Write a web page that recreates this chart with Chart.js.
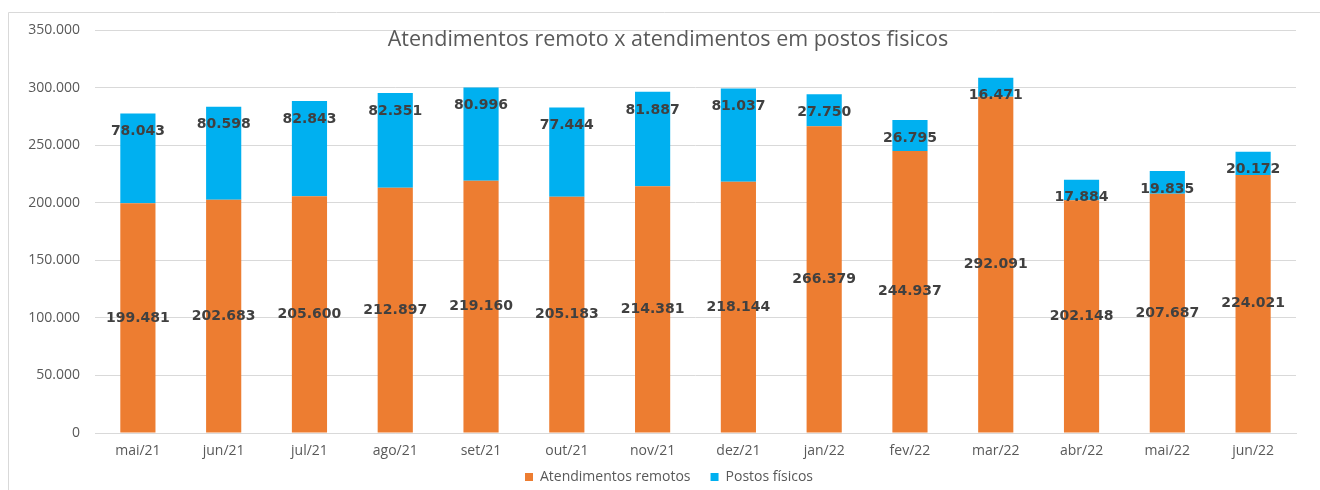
<!DOCTYPE html>
<html>
<head>
<meta charset="utf-8">
<script src="https://cdn.jsdelivr.net/npm/chart.js@4"></script>
<style>
    html, body { margin: 0; padding: 0; background: #ffffff; }
    #wrap { width: 1320px; height: 490px; position: relative; }
</style>
</head>
<body>
<div id="wrap"><canvas id="mainChart"></canvas></div>
<script>
const months = ['mai/21', 'jun/21', 'jul/21', 'ago/21', 'set/21', 'out/21', 'nov/21',
    'dez/21', 'jan/22', 'fev/22', 'mar/22', 'abr/22', 'mai/22', 'jun/22'];
const remoteValues = [199481, 202683, 205600, 212897, 219160, 205183, 214381,
    218144, 266379, 244937, 292091, 202148, 207687, 224021];
const physicalValues = [78043, 80598, 82843, 82351, 80996, 77444, 81887,
    81037, 27750, 26795, 16471, 17884, 19835, 20172];
const yTicks = [0, 50000, 100000, 150000, 200000, 250000, 300000, 350000];

const chartTitle = 'Atendimentos remoto x atendimentos em postos fisicos';
const textFont = "'Open Sans', 'Liberation Sans', sans-serif";

function formatNumber(v) {
    if (v === 0) return '0';
    return v.toString().replace(/\B(?=(\d{3})+(?!\d))/g, '.');
}

// frame, title and data labels drawn on top of the chart
const decorPlugin = {
    id: 'decor',
    beforeLayout(chart) {
        // keep the wide gap between legend items but a short legend box
        const lg = chart.legend;
        if (lg && !lg._shortFit) {
            const origFit = lg.fit;
            lg.fit = function() {
                origFit.call(this);
                this.height = 27;
            };
            lg._shortFit = true;
        }
    },
    afterLayout(chart) {
        // Excel centres the legend on the whole frame, nudge it a little
        const lg = chart.legend;
        lg.left += 21;
        lg.right += 21;
        lg.top -= 13;
        lg.bottom = chart.height;
        lg.height = lg.bottom - lg.top;
    },
    beforeDraw(chart) {
        const ctx = chart.ctx;
        ctx.save();
        ctx.strokeStyle = '#d9d9d9';
        ctx.lineWidth = 1;
        ctx.beginPath();
        ctx.moveTo(8.5, 600);
        ctx.lineTo(8.5, 12.5);
        ctx.lineTo(1330, 12.5);
        ctx.stroke();
        ctx.restore();
    },
    afterDatasetsDraw(chart) {
        const ctx = chart.ctx;
        ctx.save();
        ctx.fillStyle = '#595959';
        ctx.font = "21.5px " + textFont;
        ctx.textAlign = 'center';
        ctx.textBaseline = 'middle';
        ctx.fillText(chartTitle, 668, 40);

        ctx.fillStyle = '#404040';
        ctx.font = "bold 14px 'DejaVu Sans', sans-serif";
        chart.data.datasets.forEach((ds, i) => {
            const meta = chart.getDatasetMeta(i);
            meta.data.forEach((bar, j) => {
                let y;
                if (i === 0) {
                    y = (bar.y + bar.base) / 2;
                } else {
                    y = bar.y + 18;
                }
                ctx.fillText(formatNumber(ds.data[j]), bar.x, y);
            });
        });
        ctx.restore();
    }
};

const ctx = document.getElementById('mainChart').getContext('2d');

new Chart(ctx, {
    type: 'bar',
    data: {
        labels: months,
        datasets: [{
            label: 'Atendimentos remotos',
            data: remoteValues,
            backgroundColor: '#ED7D31',
            borderWidth: 0,
            categoryPercentage: 1,
            barPercentage: 0.41
        }, {
            label: 'Postos físicos',
            data: physicalValues,
            backgroundColor: '#00B0F0',
            borderWidth: 0,
            categoryPercentage: 1,
            barPercentage: 0.41
        }]
    },
    options: {
        responsive: true,
        maintainAspectRatio: false,
        animation: false,
        layout: {
            padding: { top: 30, right: 24, left: 0, bottom: 0 }
        },
        scales: {
            x: {
                stacked: true,
                grid: { display: false },
                border: { color: '#d9d9d9', width: 1 },
                ticks: {
                    color: '#595959',
                    font: { family: textFont, size: 14 },
                    padding: 2
                },
                afterFit: function(scale) {
                    scale.height = 30;
                }
            },
            y: {
                stacked: true,
                min: 0,
                max: 350000,
                afterBuildTicks: function(scale) {
                    scale.ticks = yTicks.map(v => ({ value: v }));
                },
                grid: { color: '#d9d9d9', lineWidth: 1, drawTicks: false },
                border: { display: false },
                ticks: {
                    color: '#595959',
                    font: { family: textFont, size: 14 },
                    padding: 15,
                    callback: function(value) {
                        return formatNumber(value);
                    }
                },
                afterFit: function(scale) {
                    scale.width = 95;
                }
            }
        },
        plugins: {
            legend: {
                position: 'bottom',
                labels: {
                    color: '#595959',
                    font: { family: textFont, size: 14 },
                    boxWidth: 8,
                    boxHeight: 8,
                    padding: 20
                }
            },
            tooltip: { enabled: false }
        }
    },
    plugins: [decorPlugin]
});
</script>
</body>
</html>
